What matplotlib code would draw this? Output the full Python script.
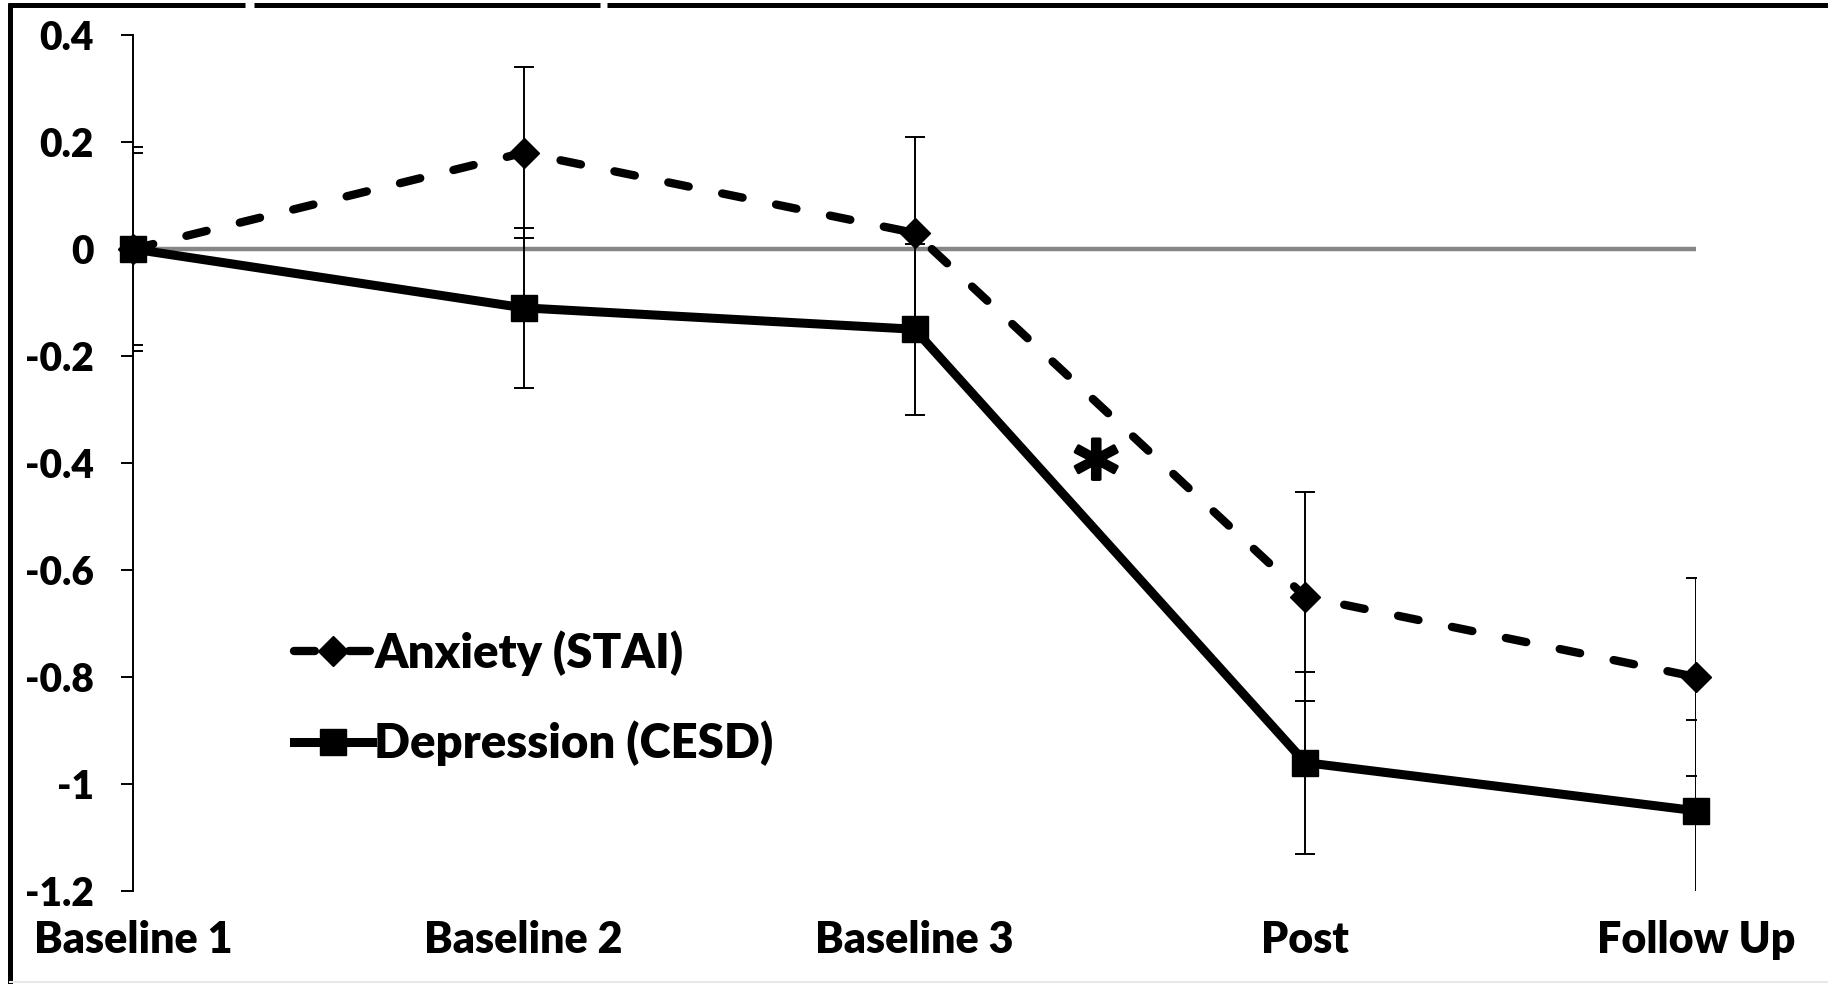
import matplotlib.pyplot as plt
import matplotlib.patheffects as pe
from matplotlib.lines import Line2D

categories = ["Baseline 1", "Baseline 2", "Baseline 3", "Post", "Follow Up"]
anxiety = [0, 0.18, 0.03, -0.65, -0.80]
anxiety_err = [0.18, 0.16, 0.18, 0.195, 0.185]
depression = [0, -0.11, -0.15, -0.96, -1.05]
depression_err = [0.19, 0.15, 0.16, 0.17, 0.17]
yticks = [0.4, 0.2, 0, -0.2, -0.4, -0.6, -0.8, -1, -1.2]
ytick_labels = ["0.4", "0.2", "0", "-0.2", "-0.4", "-0.6", "-0.8", "-1", "-1.2"]

plt.rcParams['font.family'] = ['Lato', 'DejaVu Sans']
plt.rcParams['font.weight'] = 'heavy'

W, H = 1828, 984
def px(x):
    return x / W
def py(y):
    return 1 - y / H

fig = plt.figure(figsize=(W / 100, H / 100), dpi=100)
ax = fig.add_axes([px(133), py(891), px(1696) - px(133), py(35) - py(891)])

x = list(range(len(categories)))

# zero line (the category axis in the original)
ax.axhline(0, color='#868686', lw=3.2, zorder=1)

ax.errorbar(x, depression, yerr=depression_err, fmt='none', ecolor='black',
            elinewidth=1.4, capsize=7, capthick=1.4, zorder=2)
ax.errorbar(x, anxiety, yerr=anxiety_err, fmt='none', ecolor='black',
            elinewidth=1.4, capsize=7, capthick=1.4, zorder=2)

ax.plot(x, anxiety, color='black', lw=6, dashes=(2.5, 4.1), dash_capstyle='round',
        marker='D', ms=15.5, mew=1, label='Anxiety (STAI)', zorder=3, clip_on=False)
ax.plot(x, depression, color='black', lw=6.5, marker='s', ms=18.5, mew=1,
        label='Depression (CESD)', zorder=3, clip_on=False)

ax.text(2.465, -0.475, '*', fontsize=62, ha='center', va='baseline',
        family='DejaVu Sans', fontweight='bold',
        path_effects=[pe.withStroke(linewidth=2.5, foreground='black')])

ax.set_xlim(0, 4)
ax.set_ylim(-1.2, 0.4)
ax.set_xticks(x)
ax.set_xticklabels(categories)
ax.set_yticks(yticks)
ax.set_yticklabels(ytick_labels)

for s in ['top', 'right', 'bottom']:
    ax.spines[s].set_visible(False)
ax.spines['left'].set_linewidth(1.4)
ax.tick_params(axis='y', direction='out', length=9, width=1.4, pad=19, labelsize=28)
ax.tick_params(axis='x', length=0, pad=21, labelsize=31)

ax.legend(loc='upper left', bbox_to_anchor=(px(294), py(630)), bbox_transform=fig.transFigure,
          frameon=False, fontsize=34, handlelength=1.65, handletextpad=0.05,
          labelspacing=0.95, borderpad=0, borderaxespad=0)

# outer frame of the original picture
frame = dict(color='black', lw=3.6, solid_capstyle='butt')
fig.add_artist(Line2D([px(10), px(10)], [py(3), py(984)], transform=fig.transFigure, **frame))
for x0, x1 in [(8, 245), (254, 600), (607, W)]:
    fig.add_artist(Line2D([px(x0), px(x1)], [py(5), py(5)], transform=fig.transFigure, **frame))
fig.add_artist(Line2D([px(10), 1], [py(982), py(982)], transform=fig.transFigure,
                      color='#e8e8e8', lw=1.5))

fig.savefig('out.png', dpi=100)
